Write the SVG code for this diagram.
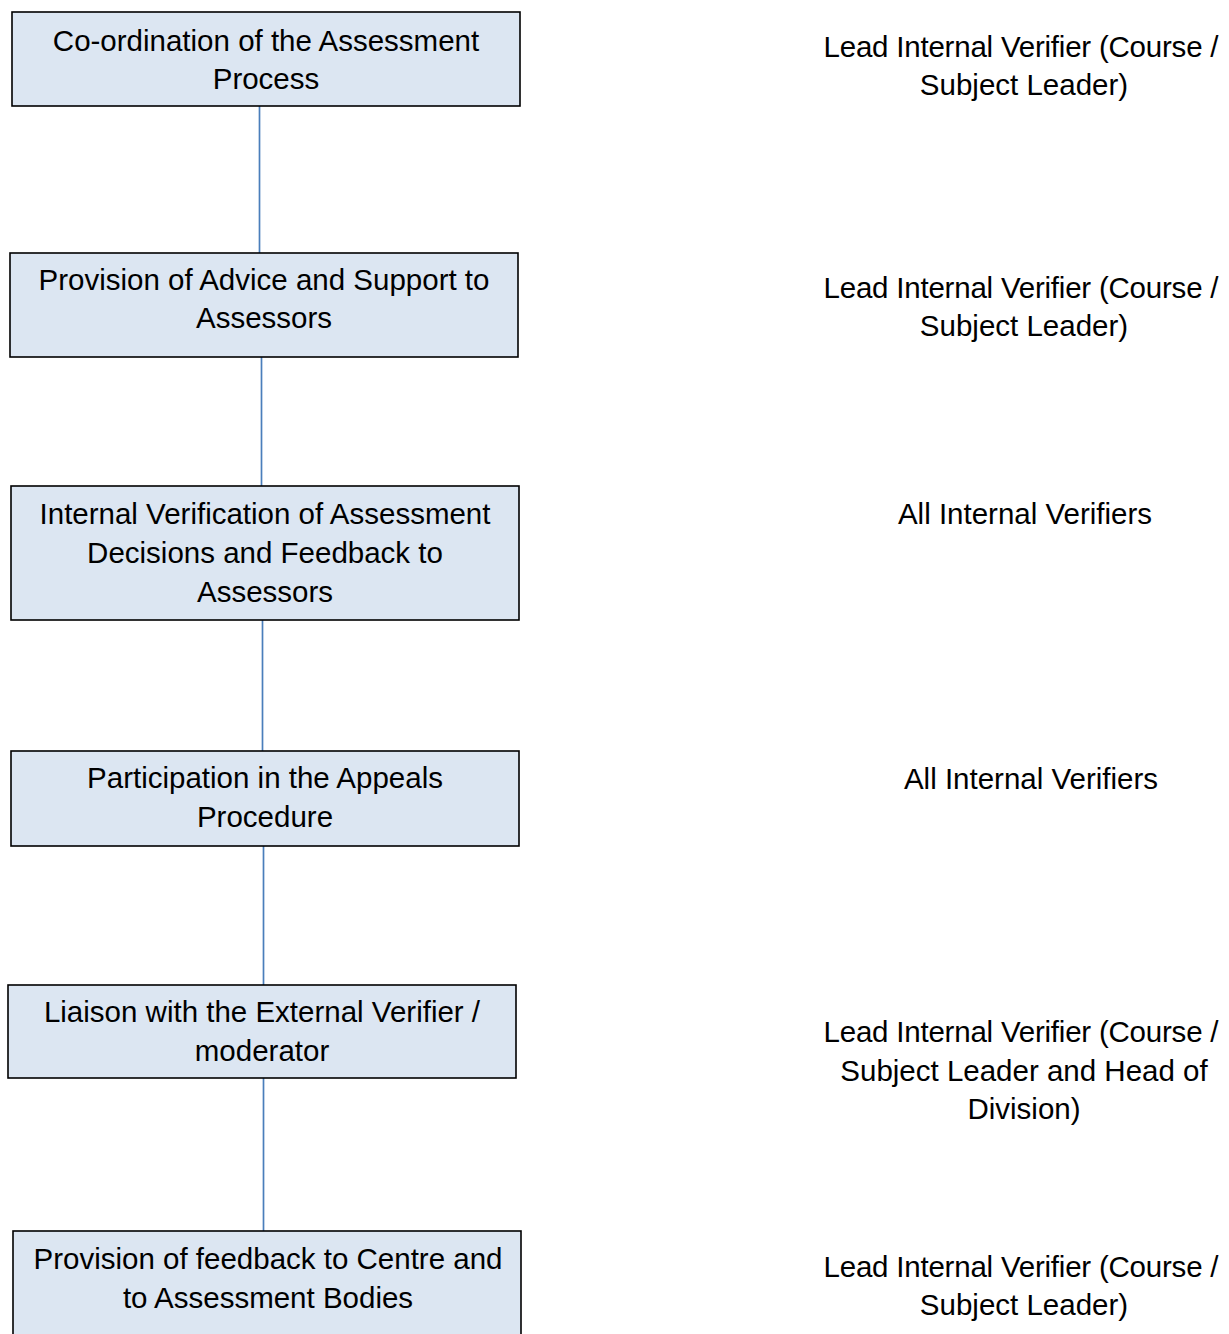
<svg xmlns="http://www.w3.org/2000/svg" width="1229" height="1334" viewBox="0 0 1229 1334">
<style>
.box{fill:#dce6f2;stroke:#000;stroke-width:1.6}
.t{font-family:"Liberation Sans",Arial,sans-serif;font-size:29.5px;fill:#000;text-anchor:middle}
.c{stroke:#4a7ebb;stroke-width:1.7;fill:none}
</style>
<rect width="1229" height="1334" fill="#fff"/>
<g id="connectors">
<line class="c" x1="259.5" y1="106" x2="259.5" y2="253"/>
<line class="c" x1="261.5" y1="357" x2="261.5" y2="486"/>
<line class="c" x1="262.5" y1="620" x2="262.5" y2="751"/>
<line class="c" x1="263.5" y1="846" x2="263.5" y2="985"/>
<line class="c" x1="263.5" y1="1078" x2="263.5" y2="1231"/>
</g>
<g id="n1">
<rect class="box" x="12" y="12" width="508" height="94"/>
<text class="t" x="266" y="51">Co-ordination of the Assessment</text>
<text class="t" x="266" y="89">Process</text>
</g>
<g id="n2">
<rect class="box" x="10" y="253" width="508" height="104"/>
<text class="t" x="264" y="290">Provision of Advice and Support to</text>
<text class="t" x="264" y="328">Assessors</text>
</g>
<g id="n3">
<rect class="box" x="11" y="486" width="508" height="134"/>
<text class="t" x="265" y="524">Internal Verification of Assessment</text>
<text class="t" x="265" y="563">Decisions and Feedback to</text>
<text class="t" x="265" y="602">Assessors</text>
</g>
<g id="n4">
<rect class="box" x="11" y="751" width="508" height="95"/>
<text class="t" x="265" y="788">Participation in the Appeals</text>
<text class="t" x="265" y="827">Procedure</text>
</g>
<g id="n5">
<rect class="box" x="8" y="985" width="508" height="93"/>
<text class="t" x="262" y="1022">Liaison with the External Verifier /</text>
<text class="t" x="262" y="1061">moderator</text>
</g>
<g id="n6">
<rect class="box" x="13" y="1231" width="508" height="110"/>
<text class="t" x="268" y="1269">Provision of feedback to Centre and</text>
<text class="t" x="268" y="1308">to Assessment Bodies</text>
</g>
<g id="r1">
<text class="t" x="1021" y="57" textLength="395">Lead Internal Verifier (Course /</text>
<text class="t" x="1024" y="95">Subject Leader)</text>
</g>
<g id="r2">
<text class="t" x="1021" y="298" textLength="395">Lead Internal Verifier (Course /</text>
<text class="t" x="1024" y="336">Subject Leader)</text>
</g>
<g id="r3">
<text class="t" x="1025" y="524">All Internal Verifiers</text>
</g>
<g id="r4">
<text class="t" x="1031" y="789">All Internal Verifiers</text>
</g>
<g id="r5">
<text class="t" x="1021" y="1042" textLength="395">Lead Internal Verifier (Course /</text>
<text class="t" x="1024" y="1081">Subject Leader and Head of</text>
<text class="t" x="1024" y="1119">Division)</text>
</g>
<g id="r6">
<text class="t" x="1021" y="1277" textLength="395">Lead Internal Verifier (Course /</text>
<text class="t" x="1024" y="1315">Subject Leader)</text>
</g>
</svg>
